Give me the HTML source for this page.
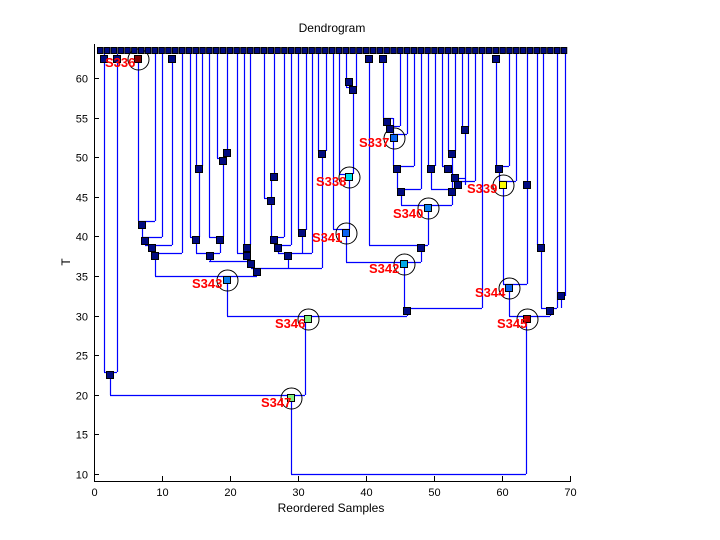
<!DOCTYPE html>
<html><head><meta charset="utf-8"><style>
html,body{margin:0;padding:0;background:#fff;width:720px;height:540px;overflow:hidden}
svg text{font-family:"Liberation Sans",sans-serif}
.lab{fill:#ff0000;font-weight:bold;font-size:13px;font-family:"Liberation Sans",sans-serif}
</style></head><body>
<svg id="s" width="720" height="540" xmlns="http://www.w3.org/2000/svg">
<rect width="720" height="540" fill="#fff"/>
<text x="332" y="32" font-size="12" text-anchor="middle">Dendrogram</text>
<text x="331" y="512" font-size="12" text-anchor="middle">Reordered Samples</text>
<text x="66" y="266" font-size="12" text-anchor="middle" transform="rotate(-90 66 262)">T</text>
<g id="ax" stroke="#000" stroke-width="1"></g>
<g id="tl" font-size="11"></g>
<g id="ln" stroke="#0000ff" stroke-width="1.2" fill="none"></g>
<g id="cir" stroke="#000" stroke-width="1" fill="none"></g>
<g id="nd" stroke="#000" stroke-width="1"></g>
<g>
<text class="lab" x="105" y="67">S336</text>
<text class="lab" x="359" y="147">S337</text>
<text class="lab" x="316" y="186">S338</text>
<text class="lab" x="467" y="193">S339</text>
<text class="lab" x="393" y="218">S340</text>
<text class="lab" x="312" y="242">S341</text>
<text class="lab" x="369" y="273">S342</text>
<text class="lab" x="192" y="288">S343</text>
<text class="lab" x="475" y="297">S344</text>
<text class="lab" x="497" y="328">S345</text>
<text class="lab" x="275" y="328">S346</text>
<text class="lab" x="261" y="407">S347</text>
</g>
</svg>
<script>
var NS="http://www.w3.org/2000/svg";
function el(p,t,a){var e=document.createElementNS(NS,t);for(var k in a)e.setAttribute(k,a[k]);document.getElementById(p).appendChild(e);return e;}
el("ax","line",{x1:94.5,y1:44,x2:94.5,y2:481.5});
el("ax","line",{x1:94,y1:481.5,x2:571,y2:481.5});
for(var i=0;i<=7;i++){var x=94.5+68*i;el("ax","line",{x1:x,y1:481,x2:x,y2:476});
 var t=el("tl","text",{x:x,y:496,"text-anchor":"middle"});t.textContent=10*i;}
for(var v=10;v<=60;v+=5){var y=Math.round(474-7.92*(v-10))+0.5;el("ax","line",{x1:94,y1:y,x2:99,y2:y});
 var t=el("tl","text",{x:88,y:y+4,"text-anchor":"end"});t.textContent=v;}
var V=[[104,54,372],[117,54,372],[110,375,395],[305,316,395],[291,398,474],[526,320,474],[227,280,316],[407,311,316],[509,288,316],[550,311,316],
[138,59,221],[155,54,221],[142,225,237],[162,54,237],[145,241,245],[172,59,245],[152,248,253],[182,54,253],[155,256,276],[257,268,276],
[196,54,166],[202,54,166],[199,169,237],[190,54,237],[196,240,253],[209,54,237],[217,54,158],[227,54,153],[223,158,237],[220,240,253],[210,256,261],
[237,54,253],[244,54,245],[250,54,245],[247,248,253],[251,261,268],
[264,54,198],[274,54,177],[271,177,237],[284,54,237],[274,240,245],[291,54,245],[278,248,253],[302,230,253],[298,54,230],[306,54,230],[312,54,253],[288,256,268],
[322,151,268],[318,54,151],[326,54,151],
[333,54,229],[339,54,174],[353,87,174],[349,177,229],[346,54,87],[356,54,87],[346,233,262],[421,245,262],[369,59,245],[428,208,245],[404,264,308],[482,54,308],
[401,189,205],[452,154,205],[421,54,189],[397,166,189],[414,54,166],[393,118,166],[383,59,118],[400,54,126],[407,54,134],
[431,166,189],[428,54,166],[435,54,166],[442,54,166],[448,54,151],[455,54,151],[465,127,185],[462,54,127],[468,54,127],[475,54,181],
[496,59,166],[509,54,166],[499,169,181],[516,54,181],[503,185,284],[527,54,284],[537,54,245],[543,54,245],[541,248,308],[557,54,308],[561,296,308],[565,54,296]];
var H=[[372,104,117],[395,110,305],[474,291,526],[316,227,407],[316,509,550],
[221,138,155],[237,142,162],[245,145,172],[253,152,182],[276,155,257],
[166,196,202],[237,190,199],[158,217,227],[237,209,223],[253,196,220],[261,209,251],[245,244,250],[253,237,247],[268,251,322],
[198,264,271],[237,271,284],[245,274,291],[230,298,306],[253,278,312],[151,318,326],
[229,333,349],[174,339,353],[87,346,356],[262,346,421],[245,369,428],[308,404,482],
[205,401,452],[189,397,421],[166,393,414],[118,383,393],[126,387,400],[134,390,407],
[189,431,452],[166,428,435],[166,442,452],[151,448,455],[178,452,465],[181,458,475],[127,462,468],
[166,496,509],[181,499,516],[284,503,527],[245,537,543],[308,541,557],[296,561,565]];
V.forEach(function(a){el("ln","line",{x1:a[0]+.5,y1:a[1],x2:a[0]+.5,y2:a[2]});});
H.forEach(function(a){el("ln","line",{x1:a[1],y1:a[0]+.5,x2:a[2],y2:a[0]+.5});});
for(var i=0;i<69;i++){el("nd","rect",{x:97.5+6.82*i,y:47.5,width:5.5,height:6,fill:"#000a80"});}
var N=[[104,59],[117,59],[110,375],[142,225],[145,241],[152,248],[155,256],[172,59],[199,169],[196,240],[223,161],[227,153],[220,240],[210,256],[247,248],[247,256],[251,264],[257,272],
[271,201],[274,177],[274,240],[278,248],[288,256],[302,233],[322,154],[353,90],[349,82],[421,248],[369,59],[407,311],[401,192],[452,192],[397,169],[387,122],[390,129],[383,59],
[431,169],[455,178],[458,185],[452,154],[448,169],[465,130],[496,59],[499,169],[527,185],[541,248],[550,311],[561,296]];
N.forEach(function(p){el("nd","rect",{x:p[0]-3.5,y:p[1]-3.5,width:7,height:7,fill:"#000a80"});});
var L=[[138,59,"#800000"],[394,138,"#0a64f0"],[349,177,"#00e0f0"],[503,185,"#ffff00"],[428,208,"#0a80f0"],[346,233,"#0a64f0"],[404,264,"#00a8e8"],[227,280,"#0a80f0"],[509,288,"#0a64f0"],[527,319,"#c00000"],[308,319,"#80f080"],[291,398,"#80f080"]];
L.forEach(function(p){el("cir","circle",{cx:p[0]+.5,cy:p[1]+.5,r:10.5});el("nd","rect",{x:p[0]-3.5,y:p[1]-3.5,width:7,height:7,fill:p[2]});});
</script>
</body></html>
